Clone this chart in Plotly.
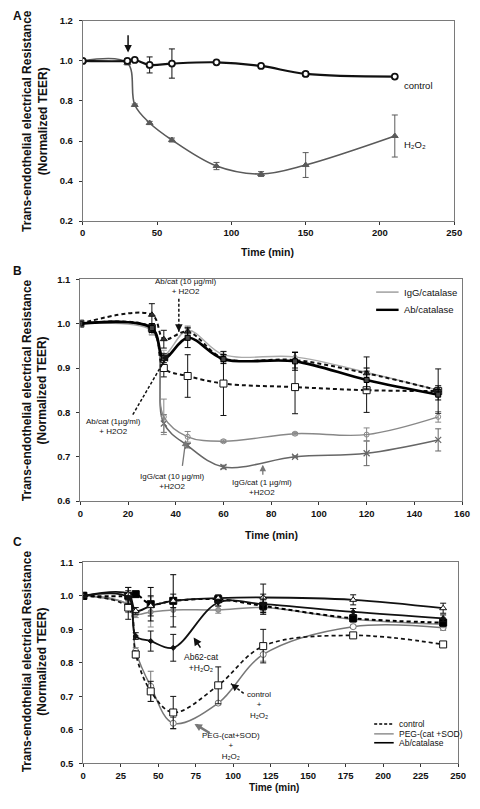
import plotly.graph_objects as go

# The page body has an 8px margin, so the figure is 464x793 and screen pixels are offset by 8.
W, H = 464, 793
OFF = 8
def px(x): return (x - OFF) / W
def py(y): return 1 - (y - OFF) / H

# ---------------- Panel A data ----------------
t_A = [0, 30, 35, 45, 60, 90, 120, 150, 210]
control_A = [1.0, 1.0, 1.005, 0.98, 0.987, 0.993, 0.975, 0.935, 0.922]
control_A_err = [0, 0.01, 0.005, 0.04, 0.073, 0.005, 0.005, 0.012, 0.005]
h2o2_A = [1.0, 0.99, 0.78, 0.69, 0.605, 0.475, 0.435, 0.48, 0.625]
h2o2_A_err = [0, 0.01, 0.005, 0.008, 0.01, 0.018, 0.012, 0.062, 0.105]

# ---------------- Panel B data ----------------
t_B = [0, 30, 35, 45, 60, 90, 120, 150]
igg_cat_B = [1.0, 0.985, 0.93, 0.985, 0.93, 0.925, 0.89, 0.85]
igg_cat_B_err = [0, 0.01, 0.01, 0.01, 0.008, 0.01, 0.01, 0.01]
ab_cat_B = [1.0, 0.99, 0.922, 0.968, 0.92, 0.915, 0.873, 0.84]
ab_cat_B_err = [0, 0.01, 0.01, 0.022, 0.01, 0.02, 0.02, 0.012]
ab10_h2o2_B = [1.0, 1.02, 0.965, 0.982, 0.922, 0.918, 0.888, 0.85]
ab10_h2o2_B_err = [0, 0.025, 0.02, 0.01, 0.008, 0.018, 0.037, 0.01]
ab1_h2o2_B = [1.0, 0.99, 0.90, 0.882, 0.865, 0.857, 0.85, 0.848]
ab1_h2o2_B_err = [0, 0.01, 0.02, 0.048, 0.072, 0.06, 0.05, 0.05]
igg10_h2o2_B = [1.0, 0.985, 0.79, 0.745, 0.735, 0.752, 0.75, 0.79]
igg10_h2o2_B_err = [0, 0.01, 0.04, 0.012, 0.003, 0.003, 0.015, 0.012]
igg1_h2o2_B = [1.0, 0.985, 0.775, 0.725, 0.677, 0.70, 0.708, 0.738]
igg1_h2o2_B_err = [0, 0.01, 0.02, 0.005, 0.004, 0.002, 0.028, 0.025]

# ---------------- Panel C data ----------------
t_C = [0, 30, 35, 45, 60, 90, 120, 180, 240]
control_C = [1.0, 1.0, 1.005, 0.975, 0.985, 0.99, 0.97, 0.933, 0.92]
control_C_err = [0, 0.025, 0.005, 0.05, 0.078, 0.01, 0.02, 0.01, 0.01]
control_h2o2_C = [1.0, 0.965, 0.825, 0.715, 0.652, 0.733, 0.85, 0.882, 0.855]
control_h2o2_C_err = [0, 0.035, 0.01, 0.03, 0.048, 0.055, 0.05, 0.005, 0.005]
peg_C = [1.0, 0.975, 0.945, 0.952, 0.958, 0.958, 0.965, 0.93, 0.915]
peg_C_err = [0, 0.02, 0.01, 0.045, 0.02, 0.01, 0.02, 0.01, 0.01]
peg_h2o2_C = [1.0, 0.97, 0.835, 0.73, 0.62, 0.68, 0.825, 0.908, 0.905]
peg_h2o2_C_err = [0, 0.02, 0.01, 0.045, 0.017, 0.005, 0.02, 0.005, 0.008]
ab_C = [1.0, 1.005, 0.955, 0.97, 0.985, 0.993, 0.995, 0.988, 0.963]
ab_C_err = [0, 0.02, 0.01, 0.03, 0.02, 0.01, 0.04, 0.015, 0.015]
ab_h2o2_C = [1.0, 0.995, 0.88, 0.865, 0.845, 0.98, 0.975, 0.952, 0.933]
ab_h2o2_C_err = [0, 0.02, 0.01, 0.03, 0.04, 0.01, 0.03, 0.01, 0.01]

FONT = "Liberation Sans, Arial, sans-serif"
fig = go.Figure()

def add(x, y, err, xa, ya, color, width, dash, symbol, msize, mfill, mline=1):
    fig.add_trace(go.Scatter(
        x=x, y=y, xaxis=xa, yaxis=ya, mode="lines+markers",
        line=dict(color=color, width=width, dash=dash, shape="spline", smoothing=1),
        marker=dict(symbol=symbol, size=msize, color=mfill, line=dict(color=color, width=mline)),
        error_y=dict(type="data", array=err, visible=True, color=color, thickness=1, width=3),
        showlegend=False, hoverinfo="skip"))

# Panel A
add(t_A, h2o2_A, h2o2_A_err, "x", "y", "#5a5a5a", 1.6, "solid", "triangle-up", 6, "#5a5a5a")
add(t_A, control_A, control_A_err, "x", "y", "#111", 2.2, "solid", "circle", 6, "white", 1.8)

# Panel B
DASH = "4px,3px"
add(t_B, igg1_h2o2_B, igg1_h2o2_B_err, "x2", "y2", "#666", 1.6, "solid", "x-thin", 6, "#666", 1.2)
add(t_B, igg10_h2o2_B, igg10_h2o2_B_err, "x2", "y2", "#888", 1.4, "solid", "circle-open", 5, "#888", 1)
add(t_B, igg_cat_B, igg_cat_B_err, "x2", "y2", "#aaa", 1.4, "solid", "circle", 4, "#aaa")
add(t_B, ab1_h2o2_B, ab1_h2o2_B_err, "x2", "y2", "#111", 2, DASH, "square", 7, "white", 1)
add(t_B, ab10_h2o2_B, ab10_h2o2_B_err, "x2", "y2", "#111", 2, DASH, "triangle-up", 6, "#333")
add(t_B, ab_cat_B, ab_cat_B_err, "x2", "y2", "#000", 2.6, "solid", "square", 5, "#444")

# Panel C
add(t_C, peg_h2o2_C, peg_h2o2_C_err, "x3", "y3", "#777", 1.5, "solid", "circle", 6, "white", 1)
add(t_C, peg_C, peg_C_err, "x3", "y3", "#888", 1.5, "solid", "circle", 5, "#999")
add(t_C, control_h2o2_C, control_h2o2_C_err, "x3", "y3", "#111", 1.7, DASH, "square", 7, "white", 1)
add(t_C, control_C, control_C_err, "x3", "y3", "#000", 2, DASH, "square", 7, "#000")
add(t_C, ab_C, ab_C_err, "x3", "y3", "#111", 1.8, "solid", "triangle-up", 6, "white", 1)
add(t_C, ab_h2o2_C, ab_h2o2_C_err, "x3", "y3", "#111", 1.8, "solid", "diamond", 4, "#111")

axis_common = dict(showline=True, linecolor="#7a7a7a", linewidth=1, mirror=True,
                   ticks="outside", ticklen=3, tickcolor="#333", showgrid=False, zeroline=False,
                   tickfont=dict(family=FONT, size=9.5, color="#111", weight="bold"))

fig.update_layout(
    width=W, height=H, margin=dict(l=0, r=0, t=0, b=0),
    paper_bgcolor="white", plot_bgcolor="white",
    font=dict(family=FONT, color="#111"),
    xaxis=dict(domain=[px(81.5), px(462)], range=[0, 250], dtick=50, anchor="y", **axis_common),
    yaxis=dict(domain=[py(218), py(15)], range=[0.2, 1.2], dtick=0.2, tickformat=".1f",
               anchor="x", ticklabelstandoff=4, **axis_common),
    xaxis2=dict(domain=[px(79), px(470)], range=[0, 160], dtick=20, anchor="y2", **axis_common),
    yaxis2=dict(domain=[py(502), py(277)], range=[0.6, 1.1], dtick=0.1, tickformat=".1f",
                anchor="x2", ticklabelstandoff=4, **axis_common),
    xaxis3=dict(domain=[px(82), px(466)], range=[0, 250], dtick=25, anchor="y3", **axis_common),
    yaxis3=dict(domain=[py(768), py(564)], range=[0.5, 1.1], dtick=0.1, tickformat=".1f",
                anchor="x3", ticklabelstandoff=4, **axis_common),
    showlegend=False,
)

ann = []
shapes = []

def txt(text, x, y, xref="paper", yref="paper", size=8, bold=False, xanchor="center", angle=0, color="#111"):
    ann.append(dict(text=text, x=x, y=y, xref=xref, yref=yref, showarrow=False,
                    xanchor=xanchor, yanchor="middle", textangle=angle,
                    font=dict(family=FONT, size=size, color=color, weight="bold" if bold else "normal")))

def arrow(tail, tip, xr, yr, color="#111", width=1.3, dashed=False, size=1.0):
    if dashed:
        shapes.append(dict(type="line", x0=tail[0], y0=tail[1], x1=tip[0], y1=tip[1],
                           xref=xr, yref=yr, line=dict(color=color, width=width, dash="3px,2px")))
        f = 0.25
        tail = (tip[0] + (tail[0] - tip[0]) * f, tip[1] + (tail[1] - tip[1]) * f)
    ann.append(dict(text="", x=tip[0], y=tip[1], ax=tail[0], ay=tail[1], xref=xr, yref=yr,
                    axref=xr, ayref=yr, showarrow=True, arrowhead=2, arrowsize=size,
                    arrowwidth=width, arrowcolor=color))

YT = "Trans-endothelial electrical Resistance<br>(Normalized TEER)"
# Panel A text
txt("A", px(8), py(10), size=12, bold=True, xanchor="left")
txt(YT, px(32), py(116), size=12, bold=True, angle=-90)
txt("Time (min)", px(271), py(249), size=10.5, bold=True)
txt("control", 215, 0.875, "x", "y", size=9.5, xanchor="left")
txt("H₂O₂", 215, 0.584, "x", "y", size=9.5, xanchor="left")
arrow((30.5, 1.136), (30.5, 1.042), "x", "y", width=1.5)

# Panel B text
txt("B", px(8), py(269), size=12, bold=True, xanchor="left")
txt(YT, px(32), py(389), size=12, bold=True, angle=-90)
txt("Time (min)", px(275), py(536), size=10.5, bold=True)
txt("Ab/cat (10 µg/ml)<br>+ H2O2", 44, 1.084, "x2", "y2")
arrow((41.3, 1.056), (41.3, 0.982), "x2", "y2", dashed=True, width=1.5)
txt("Ab/cat (1µg/ml)<br>+ H2O2", 13.9, 0.769, "x2", "y2")
arrow((22, 0.795), (37, 0.933), "x2", "y2", dashed=True, width=1.5)
txt("IgG/cat (10 µg/ml)<br>+H2O2", 38.5, 0.644, "x2", "y2")
arrow((42.7, 0.676), (44.2, 0.738), "x2", "y2", color="#777", width=1.3)
txt("IgG/cat (1 µg/ml)<br>+H2O2", 76.1, 0.631, "x2", "y2")
arrow((76.5, 0.656), (76.5, 0.682), "x2", "y2", color="#777", width=1.3)
# Panel B legend
for (label, ypx, col, w) in [("IgG/catalase", 290, "#999", 1.4), ("Ab/catalase", 308, "#000", 2.4)]:
    shapes.append(dict(type="line", x0=px(382), x1=px(405), y0=py(ypx), y1=py(ypx),
                       xref="paper", yref="paper", line=dict(color=col, width=w)))
    txt(label, px(408), py(ypx), size=9.5, xanchor="left")

# Panel C text
txt("C", px(8), py(543), size=12, bold=True, xanchor="left")
txt(YT, px(32), py(664), size=12, bold=True, angle=-90)
txt("Time (min)", px(277), py(792), size=10, bold=True)
txt("Ab62-cat<br>+H₂O₂", 79, 0.80, "x3", "y3", size=8.5)
arrow((78.8, 0.841), (73.6, 0.876), "x3", "y3", width=1.6)
txt("control<br>+<br>H₂O₂", 117, 0.674, "x3", "y3", size=8)
arrow((107, 0.709), (98.5, 0.738), "x3", "y3", dashed=True, width=1.5)
txt("PEG-(cat+SOD)<br>+<br>H₂O₂", 98.6, 0.551, "x3", "y3", size=8)
arrow((85.3, 0.588), (74.2, 0.618), "x3", "y3", color="#777", width=2.5, size=0.6)
# Panel C legend
for (label, ypx, col, w, d) in [("control", 728, "#000", 1.6, "3px,2px"),
                                 ("PEG-(cat +SOD)", 738, "#888", 1.4, "solid"),
                                 ("Ab/catalase", 747, "#000", 1.6, "solid")]:
    shapes.append(dict(type="line", x0=px(380), x1=px(400), y0=py(ypx), y1=py(ypx),
                       xref="paper", yref="paper", line=dict(color=col, width=w, dash=d)))
    txt(label, px(403), py(ypx), size=8.5, xanchor="left")

fig.update_layout(annotations=ann, shapes=shapes)
fig.write_html("out.html")
